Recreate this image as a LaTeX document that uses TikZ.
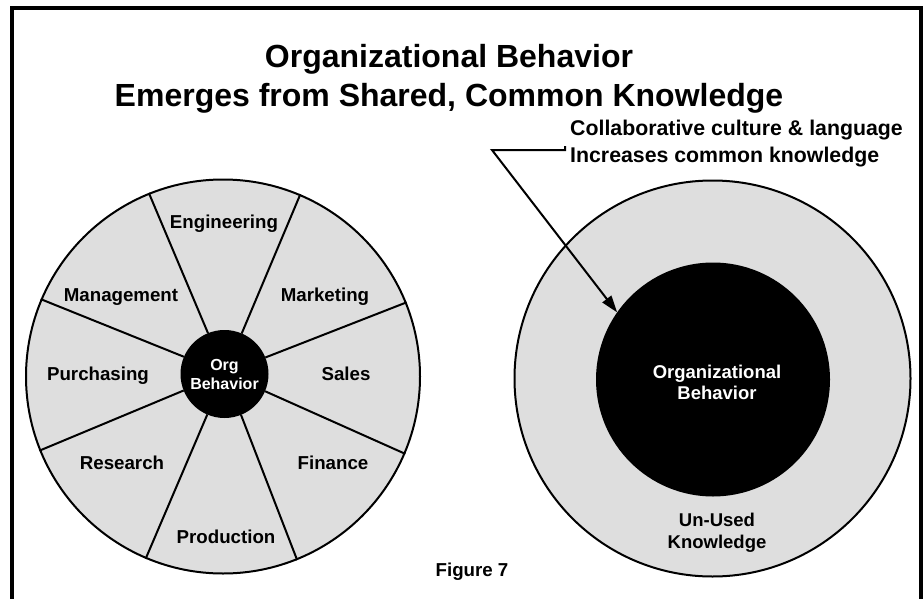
\documentclass[tikz,border=0pt]{standalone}
\usepackage{fontspec}
\setmainfont{Liberation Sans}
\usetikzlibrary{positioning,calc,arrows.meta}
\definecolor{wheelGray}{gray}{0.87}

\begin{document}
\begin{tikzpicture}[x=1pt,y=-1pt]
\tikzset{myFont/.style={font=\bfseries\fontsize{18.7}{22}\selectfont}}
\tikzset{myLabel/.style={inner sep=0pt,myFont,text height=13.4pt,text depth=0pt}}
\tikzset{myText/.style={inner sep=0pt,align=center,font=\bfseries\fontsize{18.5}{21.5}\selectfont}}
\tikzset{myRing/.style={draw,circle,line width=2pt,fill=wheelGray,inner sep=0pt}}
\tikzset{myCore/.style={draw,circle,line width=2pt,fill=black,text=white,inner sep=0pt,align=center}}
\tikzset{myLine/.style={line width=2pt}}

\useasboundingbox (0,0) rectangle (923,599);
\draw[line width=4pt] (12,610) -- (12,8) -- (921,8) -- (921,610);

\node[inner sep=0pt,align=center,font=\bfseries\fontsize{32}{39}\selectfont] (title) at (449,79) {Organizational Behavior\\Emerges from Shared, Common Knowledge};

% wheel of departments
\node[myRing,minimum size=394pt] (wheel) at (223,376.5) {};
\node[myCore,minimum size=86pt,font=\bfseries\fontsize{16}{19}\selectfont] (hub) at (224.5,374) {Org\\Behavior};
\foreach \a in {22.5,67.5,...,337.5}
  \draw[myLine] (hub.\a) -- (wheel.\a);

\node[myLabel] (eng) at (224,222) {Engineering};
\node[myLabel] (mkt) at (325,295) {Marketing};
\node[myLabel] (sales) at (346,374) {Sales};
\node[myLabel] (fin) at (333,463) {Finance};
\node[myLabel] (prod) at (226,537) {Production};
\node[myLabel] (res) at (122,463) {Research};
\node[myLabel] (purch) at (98,374) {Purchasing};
\node[myLabel] (mgmt) at (121,295) {Management};

% shared knowledge
\node[myRing,minimum size=396pt] (pool) at (712.5,378.5) {};
\node[myCore,minimum size=232pt] (core) at (713,379.5) {};
\node[myText,text=white] (coreText) at (717,382.5) {Organizational\\Behavior};
\node[myText] (unused) at (717,533) {Un-Used\\Knowledge};

\node[inner sep=0pt,anchor=west,align=left,font=\bfseries\fontsize{21.3}{27}\selectfont] (callout) at (570,143.5) {Collaborative culture \& language\\Increases common knowledge};
\coordinate (tickTop) at (565,146);
\coordinate (tickFoot) at (565,150);
\coordinate (bend) at (492,150);
\draw[myLine,-{Triangle[length=17pt,width=11pt]}] (tickTop) -- (tickFoot) -- (bend) -- (core.145);

\node[myLabel] (figNo) at (472,570) {Figure 7};
\end{tikzpicture}
\end{document}
